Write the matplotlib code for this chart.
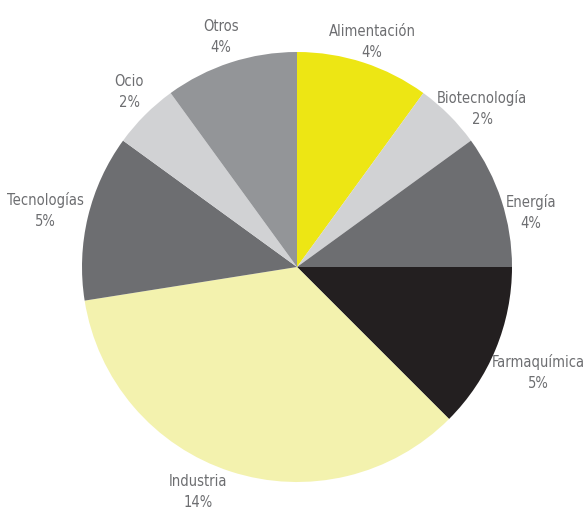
import matplotlib
matplotlib.use("Agg")
import matplotlib.pyplot as plt
from matplotlib import font_manager

# DATA
sectors = ['Alimentación', 'Biotecnología', 'Energía', 'Farmaquímica',
           'Industria', 'Tecnologías', 'Ocio', 'Otros']
values = [4, 2, 4, 5, 14, 5, 2, 4]
colors = ['#ede614', '#d1d2d4', '#6d6e71', '#231f20',
          '#f3f2ae', '#6d6e71', '#d1d2d4', '#939598']

# label centres in pixels (x, y from top)
label_px = [(372, 42), (482, 108), (531, 212), (538, 373),
            (198, 492), (45, 210), (129, 92), (221, 37)]

W, H = 585, 514
CX, CY, R = 297, 267, 215

# pick a narrow font if one is there
font_kw = {'family': 'DejaVu Sans', 'fontsize': 10}
names = {f.name: f for f in font_manager.fontManager.ttflist}
for cand in ['Liberation Sans Narrow', 'DejaVu Sans Condensed']:
    if cand in names:
        font_kw = {'family': cand, 'fontsize': 11}
        break
else:
    for f in font_manager.fontManager.ttflist:
        if f.name == 'DejaVu Sans' and f.stretch == 'condensed' and f.weight == 400:
            font_kw = {'family': 'DejaVu Sans', 'fontstretch': 'condensed', 'fontsize': 10.5}
            break

fig = plt.figure(figsize=(W / 100, H / 100), dpi=100)
ax = fig.add_axes([0, 0, 1, 1])
ax.pie(values, colors=colors, startangle=90, counterclock=False,
       radius=1, center=(0, 0), wedgeprops={'linewidth': 0})
ax.set_xlim(-CX / R, (W - CX) / R)
ax.set_ylim(-(H - CY) / R, CY / R)
ax.set_aspect('equal')
ax.axis('off')

for name, val, (px, py) in zip(sectors, values, label_px):
    ax.text((px - CX) / R, (CY - py) / R, f"{name}\n{val}%",
            ha='center', va='center', color='#6d6e71',
            linespacing=1.5, **font_kw)

fig.savefig('out.png', dpi=100)
